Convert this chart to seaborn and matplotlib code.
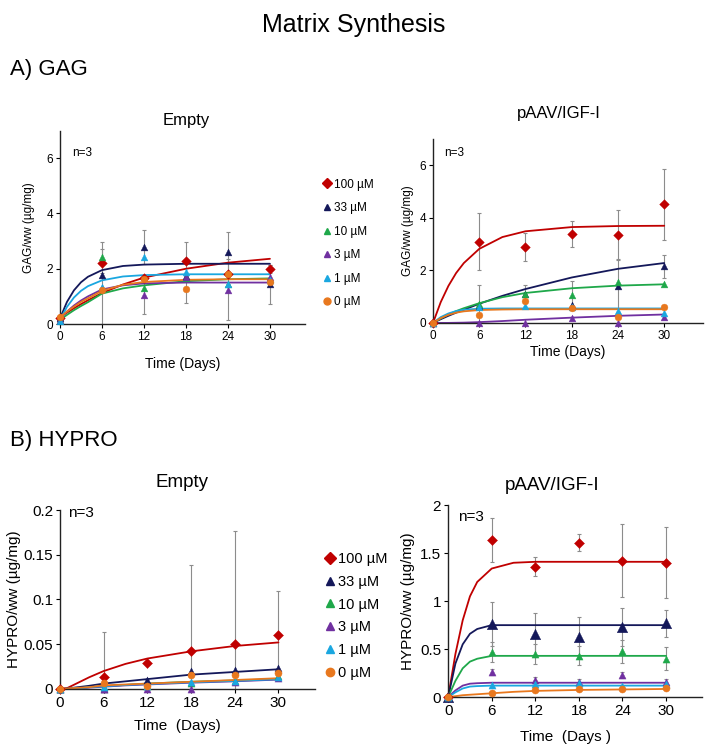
import numpy as np
import pandas as pd
import seaborn as sns
from matplotlib import pyplot as plt
from matplotlib.ticker import FormatStrFormatter

sns.set_theme(style="ticks")
plt.rcParams['font.family'] = ['Liberation Sans', 'DejaVu Sans']
plt.rcParams['text.color'] = 'black'
plt.rcParams['axes.labelcolor'] = 'black'
plt.rcParams['xtick.color'] = 'black'
plt.rcParams['ytick.color'] = 'black'

# sampling days and series names
days = [0, 6, 12, 18, 24, 30]
fit_days = [0, 1, 2, 3, 4, 6, 9, 12, 18, 24, 30]
concs = ['100 µM', '33 µM', '10 µM', '3 µM', '1 µM', '0 µM']
colors = ['#C00000', '#14185A', '#1FA84A', '#7030A0', '#1AA7E0', '#E8781E']
markers = ['D', '^', '^', '^', '^', 'o']

# A) GAG - Empty
gag_empty = {
    '100 µM': [0.2, 2.22, 1.65, 2.29, 1.82, 1.99],
    '33 µM': [0.2, 1.77, 2.78, 1.72, 2.6, 1.43],
    '10 µM': [0.15, 2.41, 1.32, 1.68, 1.46, 1.62],
    '3 µM': [0.15, 1.3, 1.06, 1.7, 1.24, 1.7],
    '1 µM': [0.1, 1.35, 2.41, 1.89, 1.46, 1.6],
    '0 µM': [0.25, 1.24, 1.62, 1.25, 1.8, 1.53],
}
gag_empty_err = {
    '100 µM': [0, 0, 0, 0.66, 0, 0.15],
    '33 µM': [0, 0, 0.62, 0, 0.73, 0.7],
    '10 µM': [0, 0.55, 0, 0, 0, 0],
    '3 µM': [0, 0, 0.7, 0, 1.1, 0],
    '1 µM': [0, 1.35, 0, 0, 0, 0],
    '0 µM': [0, 0, 0, 0.5, 0, 0],
}
gag_empty_fit = {
    '100 µM': [0.25, 0.41, 0.57, 0.72, 0.86, 1.12, 1.43, 1.68, 2.0, 2.22, 2.36],
    '33 µM': [0.2, 0.8, 1.22, 1.51, 1.71, 1.95, 2.1, 2.15, 2.18, 2.18, 2.18],
    '10 µM': [0.15, 0.33, 0.5, 0.65, 0.79, 1.1, 1.29, 1.4, 1.55, 1.62, 1.65],
    '3 µM': [0.2, 0.45, 0.67, 0.85, 1.0, 1.25, 1.4, 1.47, 1.5, 1.5, 1.5],
    '1 µM': [0.15, 0.62, 0.96, 1.2, 1.37, 1.58, 1.72, 1.77, 1.8, 1.8, 1.8],
    '0 µM': [0.25, 0.45, 0.63, 0.8, 0.93, 1.2, 1.42, 1.52, 1.6, 1.62, 1.62],
}

# A) GAG - pAAV/IGF-I
gag_igf = {
    '100 µM': [0, 3.1, 2.89, 3.39, 3.35, 4.52],
    '33 µM': [0, 0.63, 1.1, 0.7, 1.42, 2.15],
    '10 µM': [0, 0.73, 1.11, 1.05, 1.56, 1.47],
    '3 µM': [0, 0.0, 0.0, 0.19, 0.0, 0.23],
    '1 µM': [0, 0.6, 0.63, 0.6, 0.44, 0.38],
    '0 µM': [0, 0.3, 0.82, 0.57, 0.22, 0.61],
}
gag_igf_err = {
    '100 µM': [0, 1.1, 0.55, 0.5, 0.95, 1.35],
    '33 µM': [0, 0.8, 0, 0, 1.0, 0.45],
    '10 µM': [0, 0, 0.35, 0.55, 0, 0],
    '3 µM': [0, 0, 0, 0, 0, 0],
    '1 µM': [0, 0, 0, 0, 0, 0],
    '0 µM': [0, 0, 0, 0, 0, 0],
}
gag_igf_fit = {
    '100 µM': [0, 0.79, 1.41, 1.9, 2.28, 2.82, 3.27, 3.49, 3.65, 3.69, 3.7],
    '33 µM': [0, 0.14, 0.27, 0.39, 0.5, 0.73, 1.03, 1.29, 1.73, 2.06, 2.28],
    '10 µM': [0, 0.17, 0.32, 0.45, 0.56, 0.75, 0.98, 1.14, 1.32, 1.42, 1.47],
    '3 µM': [0, 0.0, 0.0, 0.005, 0.01, 0.03, 0.07, 0.12, 0.2, 0.27, 0.32],
    '1 µM': [0, 0.22, 0.36, 0.45, 0.5, 0.54, 0.55, 0.55, 0.55, 0.55, 0.55],
    '0 µM': [0, 0.18, 0.31, 0.39, 0.44, 0.49, 0.51, 0.52, 0.52, 0.52, 0.52],
}

# B) HYPRO - Empty
hyp_empty = {
    '100 µM': [0, 0.0128, 0.029, 0.042, 0.050, 0.060],
    '33 µM': [0, 0.0, 0.010, 0.020, 0.021, 0.023],
    '10 µM': [0, 0.002, 0.003, 0.007, 0.009, 0.014],
    '3 µM': [0, 0.0, 0.0, 0.0, 0.008, 0.012],
    '1 µM': [0, 0.002, 0.003, 0.008, 0.009, 0.013],
    '0 µM': [0, 0.0065, 0.003, 0.016, 0.016, 0.0175],
}
hyp_empty_err = {
    '100 µM': [0, 0.051, 0, 0.097, 0.126, 0.049],
    '33 µM': [0, 0, 0, 0, 0, 0],
    '10 µM': [0, 0, 0, 0, 0, 0],
    '3 µM': [0, 0, 0, 0, 0, 0],
    '1 µM': [0, 0, 0, 0, 0, 0],
    '0 µM': [0, 0, 0, 0, 0, 0],
}
hyp_empty_fit = {
    '100 µM': [0, 0.001, 0.005, 0.009, 0.013, 0.02, 0.028, 0.034, 0.042, 0.048, 0.052],
    '33 µM': [0, 0.0005, 0.0015, 0.0025, 0.0035, 0.006, 0.0085, 0.011, 0.016, 0.019, 0.022],
    '10 µM': [0, 0, 0.001, 0.001, 0.002, 0.003, 0.0045, 0.006, 0.008, 0.0095, 0.011],
    '3 µM': [0, 0, 0.0005, 0.001, 0.0015, 0.0025, 0.004, 0.005, 0.007, 0.0085, 0.0105],
    '1 µM': [0, 0, 0.001, 0.001, 0.002, 0.003, 0.0045, 0.0055, 0.0075, 0.009, 0.011],
    '0 µM': [0, 0.0005, 0.001, 0.0015, 0.002, 0.004, 0.005, 0.006, 0.008, 0.010, 0.012],
}

# B) HYPRO - pAAV/IGF-I
hyp_igf = {
    '100 µM': [0, 1.64, 1.36, 1.61, 1.42, 1.40],
    '33 µM': [0, 0.76, 0.66, 0.63, 0.73, 0.77],
    '10 µM': [0, 0.47, 0.45, 0.43, 0.48, 0.40],
    '3 µM': [0, 0.26, 0.18, 0.16, 0.23, 0.16],
    '1 µM': [0, 0.13, 0.14, 0.15, 0.12, 0.14],
    '0 µM': [0, 0.045, 0.07, 0.08, 0.08, 0.09],
}
hyp_igf_err = {
    '100 µM': [0, 0.23, 0.1, 0.09, 0.38, 0.37],
    '33 µM': [0, 0.23, 0.22, 0.21, 0.2, 0.14],
    '10 µM': [0, 0.1, 0.1, 0.1, 0.12, 0.12],
    '3 µM': [0, 0.03, 0.03, 0.03, 0.03, 0.03],
    '1 µM': [0, 0, 0, 0, 0, 0],
    '0 µM': [0, 0, 0, 0, 0, 0],
}
hyp_igf_fit = {
    '100 µM': [0, 0.45, 0.8, 1.05, 1.2, 1.34, 1.40, 1.41, 1.41, 1.41, 1.41],
    '33 µM': [0, 0.35, 0.55, 0.66, 0.71, 0.75, 0.75, 0.75, 0.75, 0.75, 0.75],
    '10 µM': [0, 0.17, 0.3, 0.37, 0.4, 0.43, 0.43, 0.43, 0.43, 0.43, 0.43],
    '3 µM': [0, 0.07, 0.12, 0.14, 0.145, 0.15, 0.15, 0.15, 0.15, 0.15, 0.15],
    '1 µM': [0, 0.05, 0.09, 0.11, 0.115, 0.12, 0.12, 0.12, 0.12, 0.12, 0.12],
    '0 µM': [0, 0.01, 0.02, 0.025, 0.03, 0.04, 0.055, 0.065, 0.075, 0.08, 0.085],
}


def draw_panel(ax, means, errs, fits, ymax, yticks, fs, msize, big=None):
    for c, col, mk in zip(concs, colors, markers):
        e = np.array(errs[c])
        m = np.array(means[c])
        d = np.array(days)
        keep = e > 0
        if keep.any():
            ax.errorbar(d[keep], m[keep], yerr=e[keep], fmt='none', ecolor='#8c8c8c',
                        elinewidth=0.8, capsize=1.5, capthick=0.8, zorder=1)
        sns.lineplot(x=fit_days, y=fits[c], color=col, lw=1.3, ax=ax, zorder=2)
        s = msize * 2.2 if c == big else msize
        sns.scatterplot(x=days, y=means[c], marker=mk, color=col, s=s, ax=ax,
                        edgecolor=col, linewidth=0.3, zorder=3, clip_on=False)
    ax.set_xlim(0, 35)
    ax.set_ylim(0, ymax)
    ax.set_xticks([0, 6, 12, 18, 24, 30])
    ax.set_yticks(yticks)
    ax.yaxis.set_major_formatter(FormatStrFormatter('%g'))
    ax.tick_params(labelsize=fs, length=3, width=0.8, pad=2)
    for sp in ['top', 'right']:
        ax.spines[sp].set_visible(False)
    for sp in ['left', 'bottom']:
        ax.spines[sp].set_linewidth(1.0)
        ax.spines[sp].set_color('#222222')


fig = plt.figure(figsize=(7.08, 7.44), dpi=100)

ax1 = fig.add_axes([0.0847, 0.5645, 0.346, 0.26])
ax2 = fig.add_axes([0.6116, 0.566, 0.381, 0.247])
ax3 = fig.add_axes([0.0847, 0.074, 0.36, 0.2405])
ax4 = fig.add_axes([0.633, 0.063, 0.359, 0.258])

draw_panel(ax1, gag_empty, gag_empty_err, gag_empty_fit, 7, [0, 2, 4, 6], 8.5, 24)
draw_panel(ax2, gag_igf, gag_igf_err, gag_igf_fit, 7, [0, 2, 4, 6], 8.5, 24)
draw_panel(ax3, hyp_empty, hyp_empty_err, hyp_empty_fit, 0.2, [0, 0.05, 0.1, 0.15, 0.2], 11, 26)
draw_panel(ax4, hyp_igf, hyp_igf_err, hyp_igf_fit, 2, [0, 0.5, 1, 1.5, 2], 11, 26, big='33 µM')

ax1.set_ylabel('GAG/ww (µg/mg)', fontsize=8.5, labelpad=8)
ax2.set_ylabel('GAG/ww (µg/mg)', fontsize=8.5, labelpad=4)
ax3.set_ylabel('HYPRO/ww (µg/mg)', fontsize=11, labelpad=2)
ax4.set_ylabel('HYPRO/ww (µg/mg)', fontsize=11, labelpad=4)
ax1.set_xlabel('Time (Days)', fontsize=10)
ax2.set_xlabel('Time (Days)', fontsize=10)
ax3.set_xlabel('Time  (Days)', fontsize=11)
ax4.set_xlabel('Time  (Days )', fontsize=11)
ax1.xaxis.set_label_coords(0.5, -0.17)
ax2.xaxis.set_label_coords(0.5, -0.12)
ax3.xaxis.set_label_coords(0.46, -0.17)
ax4.xaxis.set_label_coords(0.46, -0.17)

ax1.text(0.05, 0.87, 'n=3', transform=ax1.transAxes, fontsize=8.5)
ax2.text(0.04, 0.91, 'n=3', transform=ax2.transAxes, fontsize=8.5)
ax3.text(0.03, 0.96, 'n=3', transform=ax3.transAxes, fontsize=11)
ax4.text(0.04, 0.92, 'n=3', transform=ax4.transAxes, fontsize=11)

# titles
fig.text(0.5, 0.967, 'Matrix Synthesis', ha='center', va='center', fontsize=18,
         family=['Liberation Sans Narrow', 'Liberation Sans'])
fig.text(0.014, 0.906, 'A) GAG', ha='left', va='center', fontsize=16)
fig.text(0.014, 0.408, 'B) HYPRO', ha='left', va='center', fontsize=16)
fig.text(0.263, 0.838, 'Empty', ha='center', va='center', fontsize=12)
fig.text(0.79, 0.848, 'pAAV/IGF-I', ha='center', va='center', fontsize=12)
fig.text(0.257, 0.352, 'Empty', ha='center', va='center', fontsize=13.5)
fig.text(0.78, 0.348, 'pAAV/IGF-I', ha='center', va='center', fontsize=13.5)

# shared legends between the panels
handles = [plt.Line2D([], [], ls='none', marker=mk, color=col, markersize=5)
           for col, mk in zip(colors, markers)]
fig.legend(handles, concs, loc='upper left', bbox_to_anchor=(0.457, 0.760), frameon=False,
           fontsize=8.5, labelspacing=0.98, handlelength=0.6, handletextpad=0.25,
           borderpad=0, borderaxespad=0)
handles2 = [plt.Line2D([], [], ls='none', marker=mk, color=col, markersize=6)
            for col, mk in zip(colors, markers)]
fig.legend(handles2, concs, loc='upper left', bbox_to_anchor=(0.46, 0.258), frameon=False,
           fontsize=10.5, labelspacing=0.6, handlelength=0.6, handletextpad=0.25,
           borderpad=0, borderaxespad=0)

fig.savefig('out.png', dpi=100, facecolor='white')
